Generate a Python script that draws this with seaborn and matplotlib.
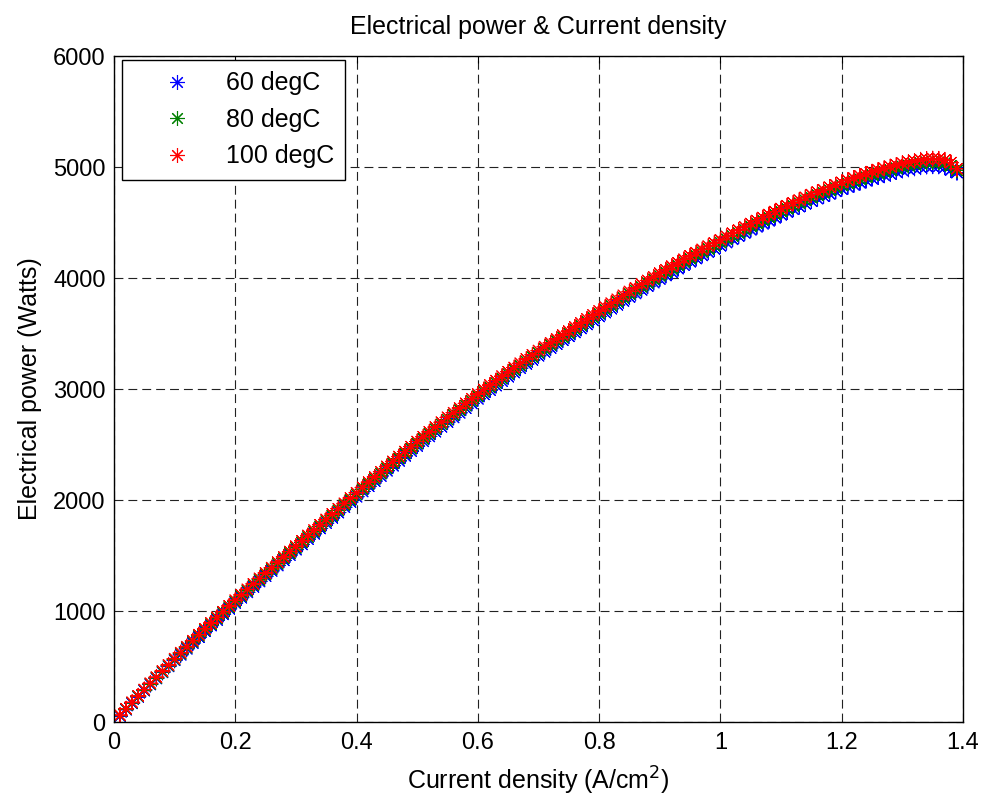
import numpy as np
import pandas as pd
import matplotlib
matplotlib.use("Agg")
import matplotlib.pyplot as plt
import seaborn as sns

# current density grid, A/cm2 (0.01 .. 1.39)
current = np.arange(1, 140) / 100

p_60 = [53, 111, 168, 226, 283, 338, 392, 447, 501, 556,
        606, 660, 712, 765, 818, 869, 919, 970, 1020, 1071,
        1120, 1168, 1217, 1266, 1314, 1362, 1410, 1457, 1505, 1553,
        1600, 1648, 1696, 1744, 1791, 1839, 1887, 1935, 1982, 2030,
        2077, 2124, 2171, 2217, 2264, 2309, 2353, 2398, 2441, 2486,
        2529, 2573, 2616, 2660, 2702, 2744, 2786, 2828, 2870, 2912,
        2952, 2991, 3031, 3071, 3111, 3149, 3187, 3225, 3262, 3300,
        3335, 3370, 3405, 3440, 3475, 3510, 3546, 3582, 3618, 3654,
        3689, 3724, 3758, 3793, 3828, 3861, 3894, 3927, 3959, 3992,
        4023, 4054, 4085, 4116, 4147, 4176, 4204, 4233, 4262, 4291,
        4320, 4349, 4378, 4407, 4435, 4462, 4489, 4516, 4543, 4570,
        4595, 4620, 4644, 4669, 4694, 4716, 4738, 4759, 4781, 4803,
        4822, 4840, 4859, 4878, 4896, 4911, 4926, 4940, 4955, 4970,
        4980, 4989, 4999, 5006, 5008, 5007, 4998, 4974, 4950]

p_80 = [58, 116, 173, 231, 288, 343, 398, 453, 508, 563,
        616, 670, 723, 777, 830, 881, 932, 983, 1034, 1085,
        1134, 1183, 1232, 1281, 1330, 1378, 1426, 1474, 1522, 1570,
        1618, 1666, 1714, 1762, 1810, 1858, 1906, 1954, 2002, 2050,
        2097, 2144, 2191, 2238, 2285, 2330, 2374, 2419, 2463, 2508,
        2551, 2595, 2638, 2682, 2725, 2767, 2809, 2851, 2893, 2935,
        2975, 3015, 3055, 3095, 3135, 3173, 3211, 3249, 3287, 3325,
        3360, 3395, 3430, 3465, 3500, 3536, 3572, 3608, 3644, 3680,
        3715, 3750, 3785, 3820, 3855, 3888, 3921, 3954, 3987, 4020,
        4051, 4082, 4113, 4144, 4175, 4204, 4233, 4262, 4291, 4320,
        4349, 4378, 4407, 4436, 4465, 4492, 4519, 4546, 4573, 4600,
        4625, 4650, 4675, 4700, 4725, 4747, 4769, 4791, 4813, 4835,
        4854, 4873, 4892, 4911, 4930, 4945, 4960, 4975, 4990, 5005,
        5015, 5025, 5035, 5042, 5045, 5044, 5035, 5012, 4970]

p_100 = [62, 120, 178, 236, 293, 349, 404, 460, 515, 571,
         625, 679, 733, 787, 840, 892, 943, 994, 1046, 1097,
         1146, 1195, 1245, 1294, 1343, 1391, 1440, 1488, 1536, 1584,
         1633, 1681, 1729, 1777, 1825, 1874, 1922, 1970, 2018, 2066,
         2114, 2161, 2208, 2255, 2303, 2348, 2392, 2437, 2481, 2527,
         2570, 2614, 2657, 2701, 2745, 2787, 2829, 2871, 2913, 2955,
         2996, 3036, 3076, 3116, 3156, 3194, 3232, 3271, 3309, 3347,
         3382, 3417, 3452, 3487, 3522, 3559, 3595, 3631, 3667, 3703,
         3738, 3773, 3808, 3844, 3879, 3912, 3945, 3978, 4011, 4044,
         4075, 4107, 4138, 4169, 4200, 4229, 4258, 4287, 4316, 4345,
         4375, 4404, 4433, 4462, 4491, 4518, 4545, 4572, 4599, 4626,
         4652, 4677, 4702, 4727, 4752, 4774, 4796, 4818, 4840, 4862,
         4881, 4901, 4920, 4939, 4958, 4973, 4989, 5004, 5019, 5034,
         5044, 5055, 5065, 5072, 5075, 5074, 5065, 5040, 4985]

labels = ["60 degC", "80 degC", "100 degC"]
colors = {"60 degC": (0, 0, 1), "80 degC": (0, 0.5, 0), "100 degC": (1, 0, 0)}

frames = []
for lab, vals in zip(labels, [p_60, p_80, p_100]):
    frames.append(pd.DataFrame({"current": current, "power": vals, "temp": lab}))
df = pd.concat(frames, ignore_index=True)

sns.set_style("white")
plt.rcParams["font.family"] = ["Liberation Sans", "DejaVu Sans"]
plt.rcParams["text.color"] = "black"
plt.rcParams["axes.labelcolor"] = "black"
plt.rcParams["xtick.direction"] = "in"
plt.rcParams["ytick.direction"] = "in"

fig = plt.figure(figsize=(9.85, 8.01), dpi=100)
ax = fig.add_axes([0.1157, 0.0986, 0.862, 0.8314])

sns.scatterplot(data=df, x="current", y="power", hue="temp", hue_order=labels,
                palette=colors, marker=(8, 2, 0), s=115, linewidth=0.8, ax=ax)

ax.set_xlim(0, 1.4)
ax.set_ylim(0, 6000)
ax.set_xticks([0, 0.2, 0.4, 0.6, 0.8, 1.0, 1.2, 1.4])
ax.set_xticklabels(["0", "0.2", "0.4", "0.6", "0.8", "1", "1.2", "1.4"])
ax.set_yticks(range(0, 6001, 1000))
ax.tick_params(labelsize=17, length=5, width=0.8, top=True, right=True, colors="black")
ax.tick_params(axis="x", pad=7)
ax.tick_params(axis="y", pad=6)
ax.grid(True, color="#222222", linestyle=(0, (8, 4.5)), linewidth=0.8)
for sp in ax.spines.values():
    sp.set_color("black")
    sp.set_linewidth(1.0)

ax.set_title("Electrical power & Current density", fontsize=18, pad=16, color="black")
ax.set_xlabel("Current density (A/cm$^2$)", fontsize=18, labelpad=8)
ax.set_ylabel("Electrical power (Watts)", fontsize=18, labelpad=8)

leg = ax.legend(loc="upper left", bbox_to_anchor=(8 / 849, 1 - 4 / 666),
                fontsize=18, frameon=True, fancybox=False,
                edgecolor="black", framealpha=1, borderaxespad=0,
                handletextpad=0.2, borderpad=0.45, labelspacing=0.5,
                handlelength=3.5, markerscale=1.0)
leg.get_frame().set_linewidth(1.0)
for t in leg.get_texts():
    t.set_color("black")

fig.savefig("out.png", dpi=100)
